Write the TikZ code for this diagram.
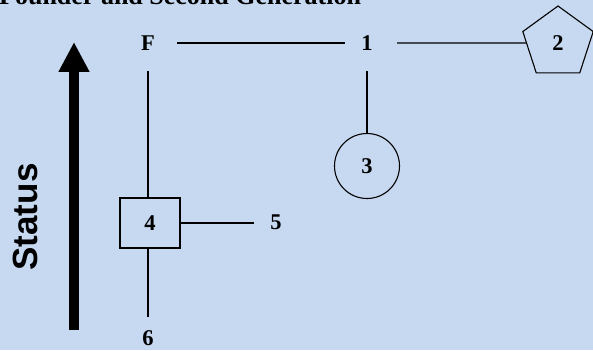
\documentclass[tikz,border=0pt]{standalone}
\usepackage{fontspec}
\setmainfont{Liberation Serif}
\setsansfont{Liberation Sans}
\usetikzlibrary{shapes.geometric, arrows.meta, positioning, calc}
\definecolor{chartbg}{HTML}{C6D9F0}

\begin{document}
\begin{tikzpicture}[
    x=1pt, y=-1pt,
    every node/.style={font=\fontsize{22.5}{26}\selectfont\bfseries},
    lbl/.style={minimum width=44pt, minimum height=46pt, inner sep=0pt},
    member/.style={draw, line width=1.1pt, inner sep=0pt},
    boxnode/.style={member, rectangle, minimum width=60pt, minimum height=50pt},
    ringnode/.style={member, circle, minimum size=65pt},
    pentnode/.style={member, regular polygon, regular polygon sides=5, minimum size=74pt},
    link/.style={line width=1.1pt},
    statusarrow/.style={line width=10pt, -{Triangle[length=30pt, width=29pt]}},
    ttl/.style={font=\fontsize{26}{29}\selectfont\bfseries, anchor=base west, inner sep=0pt}
]
    % Background
    \fill[chartbg] (0,0) rectangle (593,350);
    \useasboundingbox (0,0) rectangle (593,350);

    % Title
    \node[ttl] (title) at (-1,5) {Founder and Second Generation};

    % Founder line
    \node[lbl] (founder) at (148,43) {F};
    \node[lbl] (one) at (367,43) {1};
    \node[pentnode] (two) at (558,43) {2};
    \node[ringnode] (three) at (367,166) {3};

    % Second branch
    \node[boxnode] (four) at (150,223) {4};
    \node[lbl] (five) at (276,222) {5};
    \node[lbl] (six) at (148,338) {6};

    % Links
    \draw[link, shorten <=7pt] (founder.east) -- (one.west);
    \draw[link, shorten <=8pt] (one.east) -- (two);
    \draw[link, shorten <=5pt] (one.south) -- (three.north);
    \draw[link, shorten <=5pt] (founder.south) -- (founder.south |- four.north);
    \draw[link] (four.east) -- (five.west |- four.east);
    \draw[link, shorten >=-2pt] (six.north |- four.south) -- (six.north);

    % Status axis
    \coordinate (statuslow) at (74,330);
    \coordinate (statustop) at (74,42);
    \draw[statusarrow] (statuslow) -- (statustop);
    \node[font=\fontsize{35}{40}\selectfont\sffamily\bfseries, rotate=90] (status) at (25,217) {Status};
\end{tikzpicture}
\end{document}
